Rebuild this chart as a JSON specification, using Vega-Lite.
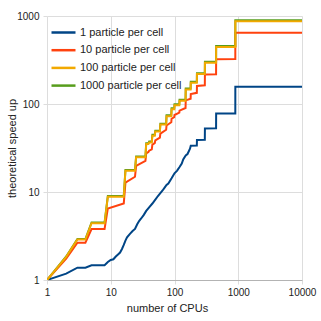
{
"$schema": "https://vega.github.io/schema/vega-lite/v6.json",
"width": 255, "height": 264,
"autosize": {"type": "none"},
"padding": {"left": 47, "top": 16, "right": 19, "bottom": 41},
"background": "white",
"config": {"view": {"stroke": null}, "font": "Liberation Sans"},
"data": {"values": [
{"s":"1 particle per cell","n":1,"v":1},{"s":"1 particle per cell","n":2,"v":1.18},{"s":"1 particle per cell","n":3,"v":1.38},{"s":"1 particle per cell","n":4,"v":1.38},{"s":"1 particle per cell","n":5,"v":1.47},{"s":"1 particle per cell","n":8,"v":1.47},{"s":"1 particle per cell","n":9,"v":1.6},{"s":"1 particle per cell","n":10,"v":1.69},{"s":"1 particle per cell","n":11,"v":1.72},{"s":"1 particle per cell","n":12,"v":1.85},{"s":"1 particle per cell","n":13,"v":1.95},{"s":"1 particle per cell","n":14,"v":2.05},{"s":"1 particle per cell","n":15,"v":2.25},{"s":"1 particle per cell","n":16,"v":2.5},{"s":"1 particle per cell","n":17,"v":2.8},{"s":"1 particle per cell","n":18,"v":3.05},{"s":"1 particle per cell","n":20,"v":3.35},{"s":"1 particle per cell","n":22,"v":3.6},{"s":"1 particle per cell","n":24,"v":3.8},{"s":"1 particle per cell","n":26,"v":4.3},{"s":"1 particle per cell","n":28,"v":4.7},{"s":"1 particle per cell","n":30,"v":5.0},{"s":"1 particle per cell","n":33,"v":5.5},{"s":"1 particle per cell","n":36,"v":6.1},{"s":"1 particle per cell","n":40,"v":6.7},{"s":"1 particle per cell","n":45,"v":7.4},{"s":"1 particle per cell","n":50,"v":8.2},{"s":"1 particle per cell","n":55,"v":9.0},{"s":"1 particle per cell","n":60,"v":9.7},{"s":"1 particle per cell","n":65,"v":10.4},{"s":"1 particle per cell","n":70,"v":11.2},{"s":"1 particle per cell","n":75,"v":12},{"s":"1 particle per cell","n":80,"v":12.5},{"s":"1 particle per cell","n":90,"v":14.3},{"s":"1 particle per cell","n":100,"v":16.3},{"s":"1 particle per cell","n":110,"v":17.5},{"s":"1 particle per cell","n":120,"v":19.2},{"s":"1 particle per cell","n":130,"v":21},{"s":"1 particle per cell","n":137,"v":23.5},{"s":"1 particle per cell","n":150,"v":26},{"s":"1 particle per cell","n":160,"v":27},{"s":"1 particle per cell","n":175,"v":31},{"s":"1 particle per cell","n":180,"v":33.5},{"s":"1 particle per cell","n":224,"v":33.8},{"s":"1 particle per cell","n":225,"v":39},{"s":"1 particle per cell","n":299,"v":39.3},{"s":"1 particle per cell","n":300,"v":52.8},{"s":"1 particle per cell","n":449,"v":53},{"s":"1 particle per cell","n":450,"v":78},{"s":"1 particle per cell","n":899,"v":78},{"s":"1 particle per cell","n":900,"v":157},{"s":"1 particle per cell","n":10000,"v":157},
{"s":"10 particle per cell","n":1,"v":1},{"s":"10 particle per cell","n":2,"v":1.75},{"s":"10 particle per cell","n":3,"v":2.65},{"s":"10 particle per cell","n":4,"v":2.65},{"s":"10 particle per cell","n":5,"v":3.8},{"s":"10 particle per cell","n":8,"v":3.8},{"s":"10 particle per cell","n":9,"v":6.5},{"s":"10 particle per cell","n":16,"v":7.4},{"s":"10 particle per cell","n":17,"v":12.8},{"s":"10 particle per cell","n":24,"v":14.9},{"s":"10 particle per cell","n":25,"v":19.8},{"s":"10 particle per cell","n":35,"v":22.6},{"s":"10 particle per cell","n":36,"v":27.5},{"s":"10 particle per cell","n":39,"v":28.5},{"s":"10 particle per cell","n":40,"v":29.5},{"s":"10 particle per cell","n":44,"v":30.5},{"s":"10 particle per cell","n":45,"v":34.5},{"s":"10 particle per cell","n":49,"v":36},{"s":"10 particle per cell","n":50,"v":38.5},{"s":"10 particle per cell","n":59,"v":41.5},{"s":"10 particle per cell","n":60,"v":46},{"s":"10 particle per cell","n":74,"v":51},{"s":"10 particle per cell","n":75,"v":57},{"s":"10 particle per cell","n":89,"v":62},{"s":"10 particle per cell","n":90,"v":68},{"s":"10 particle per cell","n":99,"v":71},{"s":"10 particle per cell","n":100,"v":75},{"s":"10 particle per cell","n":119,"v":80},{"s":"10 particle per cell","n":120,"v":84},{"s":"10 particle per cell","n":149,"v":90},{"s":"10 particle per cell","n":150,"v":110},{"s":"10 particle per cell","n":179,"v":115},{"s":"10 particle per cell","n":180,"v":130},{"s":"10 particle per cell","n":224,"v":134},{"s":"10 particle per cell","n":225,"v":160},{"s":"10 particle per cell","n":299,"v":163},{"s":"10 particle per cell","n":300,"v":216},{"s":"10 particle per cell","n":449,"v":218},{"s":"10 particle per cell","n":450,"v":322},{"s":"10 particle per cell","n":899,"v":324},{"s":"10 particle per cell","n":900,"v":646},{"s":"10 particle per cell","n":10000,"v":646},
{"s":"1000 particle per cell","n":1,"v":1},{"s":"1000 particle per cell","n":2,"v":1.85},{"s":"1000 particle per cell","n":3,"v":2.92},{"s":"1000 particle per cell","n":4,"v":2.92},{"s":"1000 particle per cell","n":5,"v":4.5},{"s":"1000 particle per cell","n":8,"v":4.5},{"s":"1000 particle per cell","n":9,"v":9},{"s":"1000 particle per cell","n":16,"v":9},{"s":"1000 particle per cell","n":17,"v":17.8},{"s":"1000 particle per cell","n":24,"v":17.8},{"s":"1000 particle per cell","n":25,"v":25.4},{"s":"1000 particle per cell","n":35,"v":25.4},{"s":"1000 particle per cell","n":36,"v":35.8},{"s":"1000 particle per cell","n":39,"v":35.8},{"s":"1000 particle per cell","n":40,"v":37.5},{"s":"1000 particle per cell","n":44,"v":37.5},{"s":"1000 particle per cell","n":45,"v":44.8},{"s":"1000 particle per cell","n":49,"v":44.8},{"s":"1000 particle per cell","n":50,"v":49.8},{"s":"1000 particle per cell","n":59,"v":49.8},{"s":"1000 particle per cell","n":60,"v":59.7},{"s":"1000 particle per cell","n":74,"v":59.7},{"s":"1000 particle per cell","n":75,"v":74.6},{"s":"1000 particle per cell","n":89,"v":74.6},{"s":"1000 particle per cell","n":90,"v":89.5},{"s":"1000 particle per cell","n":99,"v":89.5},{"s":"1000 particle per cell","n":100,"v":99.5},{"s":"1000 particle per cell","n":119,"v":99.5},{"s":"1000 particle per cell","n":120,"v":112},{"s":"1000 particle per cell","n":149,"v":112},{"s":"1000 particle per cell","n":150,"v":150},{"s":"1000 particle per cell","n":179,"v":150},{"s":"1000 particle per cell","n":180,"v":179},{"s":"1000 particle per cell","n":224,"v":179},{"s":"1000 particle per cell","n":225,"v":224},{"s":"1000 particle per cell","n":299,"v":224},{"s":"1000 particle per cell","n":300,"v":302},{"s":"1000 particle per cell","n":449,"v":302},{"s":"1000 particle per cell","n":450,"v":455},{"s":"1000 particle per cell","n":899,"v":455},{"s":"1000 particle per cell","n":900,"v":894},{"s":"1000 particle per cell","n":10000,"v":894},
{"s":"100 particle per cell","n":1,"v":1},{"s":"100 particle per cell","n":2,"v":1.83},{"s":"100 particle per cell","n":3,"v":2.88},{"s":"100 particle per cell","n":4,"v":2.88},{"s":"100 particle per cell","n":5,"v":4.42},{"s":"100 particle per cell","n":8,"v":4.42},{"s":"100 particle per cell","n":9,"v":8.85},{"s":"100 particle per cell","n":16,"v":8.85},{"s":"100 particle per cell","n":17,"v":17.4},{"s":"100 particle per cell","n":24,"v":17.4},{"s":"100 particle per cell","n":25,"v":24.9},{"s":"100 particle per cell","n":35,"v":24.9},{"s":"100 particle per cell","n":36,"v":35},{"s":"100 particle per cell","n":39,"v":35},{"s":"100 particle per cell","n":40,"v":36.6},{"s":"100 particle per cell","n":44,"v":36.6},{"s":"100 particle per cell","n":45,"v":43.7},{"s":"100 particle per cell","n":49,"v":43.7},{"s":"100 particle per cell","n":50,"v":48.6},{"s":"100 particle per cell","n":59,"v":48.6},{"s":"100 particle per cell","n":60,"v":58.3},{"s":"100 particle per cell","n":74,"v":58.3},{"s":"100 particle per cell","n":75,"v":72.8},{"s":"100 particle per cell","n":89,"v":72.8},{"s":"100 particle per cell","n":90,"v":87.3},{"s":"100 particle per cell","n":99,"v":87.3},{"s":"100 particle per cell","n":100,"v":97},{"s":"100 particle per cell","n":119,"v":97},{"s":"100 particle per cell","n":120,"v":109},{"s":"100 particle per cell","n":149,"v":109},{"s":"100 particle per cell","n":150,"v":146},{"s":"100 particle per cell","n":179,"v":146},{"s":"100 particle per cell","n":180,"v":174},{"s":"100 particle per cell","n":224,"v":174},{"s":"100 particle per cell","n":225,"v":219},{"s":"100 particle per cell","n":299,"v":219},{"s":"100 particle per cell","n":300,"v":295},{"s":"100 particle per cell","n":449,"v":295},{"s":"100 particle per cell","n":450,"v":444},{"s":"100 particle per cell","n":899,"v":444},{"s":"100 particle per cell","n":900,"v":871},{"s":"100 particle per cell","n":10000,"v":871}
]},
"mark": {"type": "line", "strokeWidth": 2, "clip": true},
"encoding": {
"x": {"field": "n", "type": "quantitative", "sort": null,
 "scale": {"type": "log", "domain": [1, 10000], "nice": false},
 "axis": {"title": "number of CPUs", "values": [1, 10, 100, 1000, 10000], "format": "d", "labelFlush": false,
  "grid": true, "gridColor": "#dddddd", "domainColor": "#b3b3b3", "tickColor": "#dddddd", "tickSize": 4,
  "labelFontSize": 10, "labelColor": "#222222", "labelPadding": 3,
  "titleFontSize": 11, "titleFontWeight": "normal", "titleColor": "#222222", "titlePadding": 5, "titleX": 120}},
"y": {"field": "v", "type": "quantitative",
 "scale": {"type": "log", "domain": [1, 1000], "nice": false},
 "axis": {"title": "theoretical speed up", "values": [1, 10, 100, 1000], "format": "d", "labelFlush": false,
  "grid": true, "gridColor": "#dddddd", "domain": false, "tickColor": "#dddddd", "tickSize": 4,
  "labelFontSize": 10, "labelColor": "#222222", "labelPadding": 4,
  "titleFontSize": 11, "titleFontWeight": "normal", "titleColor": "#222222", "titlePadding": -1}},
"color": {"field": "s", "type": "nominal",
 "scale": {"domain": ["1 particle per cell", "10 particle per cell", "100 particle per cell", "1000 particle per cell"],
  "range": ["#004586", "#ff420e", "#f2a900", "#579d1c"]},
 "legend": {"title": null, "orient": "none", "legendX": 9, "legendY": 9,
  "symbolType": "M-2,0H2", "symbolSize": 144, "symbolStrokeWidth": 2.5,
  "labelFontSize": 11, "labelColor": "#222222", "labelOffset": 9, "rowPadding": 4.7}}
}
}
